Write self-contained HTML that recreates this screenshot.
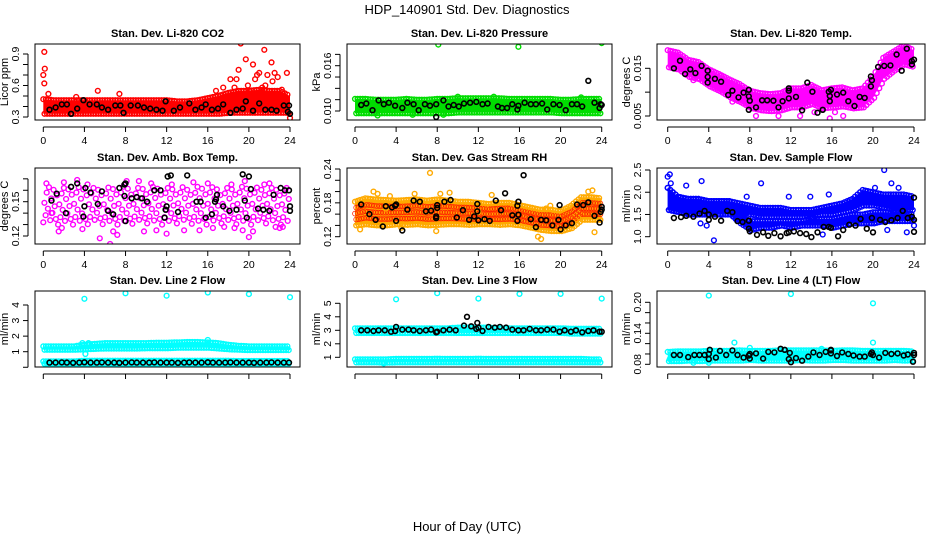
<!DOCTYPE html>
<html><head><meta charset="utf-8"><style>
body{margin:0;background:#fff}
svg{display:block;font-family:"Liberation Sans",sans-serif}
.t{font-weight:bold;font-size:11px}
.tk{font-size:10.5px}
</style></head><body>
<svg id="c" width="936" height="540" viewBox="0 0 936 540">
<text x="467" y="14" text-anchor="middle" font-size="13">HDP_140901  Std. Dev. Diagnostics</text>
<text x="467" y="531" text-anchor="middle" font-size="13">Hour of Day (UTC)</text>
</svg>
<script>
// ---------- Panel 1: CO2 ----------
const hoursBand=[0,1,2,3,4,5,6,7,8,9,10,11,12,13,14,15,16,17,18,19,20,21,22,23,24];
const co2Lo=[0.33,0.33,0.33,0.33,0.33,0.33,0.33,0.33,0.33,0.33,0.33,0.33,0.33,0.33,0.33,0.33,0.33,0.33,0.34,0.34,0.34,0.34,0.34,0.34,0.34];
const co2Hi=[0.47,0.46,0.46,0.46,0.46,0.46,0.46,0.46,0.46,0.46,0.46,0.46,0.46,0.45,0.45,0.46,0.48,0.5,0.53,0.55,0.55,0.56,0.55,0.55,0.5];
const co2OutH=[0.1,0.15,0,0.1,0.5,3.2,5.3,7.4,16.8,17.5,18.2,18.6,18.8,19,19.2,19.7,19.9,20.4,20.6,20.8,21,21.3,21.5,21.8,22.2,22.3,22.5,22.8,23.2,23.7,24,20.1,21.6,23];
const co2OutV=[0.92,0.76,0.7,0.62,0.52,0.49,0.55,0.52,0.55,0.58,0.66,0.58,0.66,0.75,1.0,0.85,0.6,0.8,0.66,0.7,0.72,0.58,0.94,0.7,0.82,0.64,0.72,0.68,0.56,0.72,0.29,0.55,0.6,0.5];
const co2BlkH=[0.6,1.2,1.8,2.3,2.7,3.3,3.9,4.5,5.2,5.7,6.3,7,7.5,7.8,8.5,9.2,9.8,10.4,11,11.6,11.9,12.7,13.3,14.2,14.8,15.4,15.8,16.4,17,17.5,18.2,18.8,19.4,19.7,20.4,21,21.6,22.2,22.7,23.4,23.8,23.9,24];
const co2BlkV=[0.37,0.39,0.42,0.42,0.33,0.38,0.46,0.42,0.42,0.39,0.37,0.41,0.41,0.34,0.41,0.41,0.39,0.38,0.37,0.36,0.45,0.36,0.39,0.43,0.37,0.39,0.42,0.37,0.38,0.42,0.34,0.37,0.38,0.45,0.36,0.43,0.37,0.37,0.36,0.41,0.35,0.41,0.33];
// ---------- Panel 2: Pressure ----------
const prsLo=[0.0097,0.0097,0.0097,0.0097,0.0097,0.0097,0.0097,0.0097,0.0097,0.0097,0.0098,0.0098,0.0098,0.0098,0.0098,0.0098,0.0098,0.0098,0.0098,0.0098,0.0097,0.0097,0.0097,0.0097,0.0097];
const prsHi=[0.0116,0.0116,0.0115,0.0115,0.0115,0.0116,0.0115,0.0115,0.0116,0.0116,0.0117,0.0117,0.0117,0.0117,0.0117,0.0116,0.0116,0.0116,0.0116,0.0116,0.0115,0.0115,0.0116,0.0116,0.0116];
const prsOutH=[8.1,15.9,24,13.5,10,5.6,22,8.6,2.2];
const prsOutV=[0.0188,0.0185,0.0190,0.0119,0.0119,0.0095,0.0118,0.0095,0.0094];
const prsBlkH=[0.6,1.1,1.7,2.3,2.8,3.3,3.9,4.6,5.1,5.7,6.2,6.8,7.3,7.9,7.9,8.6,9.1,9.6,10.1,10.6,11.2,11.8,12.4,12.9,13.9,14.3,14.8,15.3,15.8,15.9,16.5,17.1,17.6,18.2,18.7,19.3,19.9,20.5,21.1,21.6,22.1,22.7,23.3,23.9,23.8,24];
const prsBlkV=[0.0108,0.0110,0.0101,0.0114,0.0109,0.0111,0.0107,0.0104,0.0111,0.0109,0.0101,0.0109,0.0107,0.0109,0.0092,0.0114,0.0106,0.0108,0.0106,0.0110,0.0111,0.0112,0.0109,0.0110,0.0106,0.0104,0.0104,0.0109,0.0102,0.0107,0.0111,0.0109,0.0109,0.0110,0.0102,0.0109,0.0108,0.0101,0.0109,0.0109,0.0106,0.0140,0.0111,0.0109,0.0104,0.0108];
// ---------- Panel 3: Li-820 Temp ----------
const tmpLo=[0.0152,0.0147,0.0132,0.0127,0.0112,0.0102,0.0089,0.0079,0.0067,0.0062,0.0060,0.0062,0.0068,0.0068,0.0075,0.0066,0.0068,0.0070,0.0066,0.0068,0.0088,0.0128,0.0145,0.0158,0.0152];
const tmpHi=[0.0188,0.0183,0.0168,0.0163,0.0148,0.0138,0.0127,0.0117,0.0103,0.0098,0.0096,0.0098,0.0108,0.0108,0.0115,0.0104,0.0108,0.0110,0.0104,0.0108,0.0132,0.0172,0.0185,0.0198,0.0188];
const tmpOutH=[5.2,6.3,7.8,8.6,10.8,12.9,15.8,17.1,16.3,14.3,2.5,6.8];
const tmpOutV=[0.0135,0.0080,0.0075,0.0050,0.0050,0.0050,0.0045,0.0050,0.0058,0.0058,0.0125,0.0085];
const tmpBlkH=[0.6,1.2,1.7,2.2,2.7,3.3,3.9,3.9,3.9,4.6,5.2,5.9,6.3,6.9,7.4,7.9,7.9,8,7.9,8.6,9.2,9.7,10.3,10.8,11.2,11.8,11.8,11.8,12.5,13.1,13.6,14.1,14.6,15.1,15.7,15.8,15.8,15.9,16.5,17.1,17.6,18.2,18.7,19.2,19.8,19.9,19.8,20.5,21.1,21.7,22.3,22.8,23.3,23.8,23.8,24];
const tmpBlkV=[0.0150,0.0166,0.0138,0.0148,0.0140,0.0155,0.0145,0.0132,0.0120,0.0128,0.0122,0.0094,0.0103,0.0089,0.0099,0.0105,0.0091,0.0082,0.0063,0.0068,0.0083,0.0083,0.0082,0.0068,0.0081,0.0087,0.0108,0.0103,0.0090,0.0062,0.0120,0.0101,0.0057,0.0063,0.0101,0.0081,0.0092,0.0105,0.0095,0.0099,0.0081,0.0071,0.0090,0.0088,0.0112,0.0125,0.0133,0.0153,0.0155,0.0156,0.0179,0.0145,0.0191,0.0158,0.0165,0.0168];
// ---------- Panel 4: Amb. Box Temp ----------
const ambLo=[0.132,0.13,0.13,0.13,0.13,0.131,0.13,0.13,0.13,0.131,0.131,0.13,0.13,0.131,0.131,0.13,0.13,0.131,0.131,0.13,0.13,0.131,0.131,0.13,0.13];
const ambHi=[0.163,0.162,0.162,0.163,0.162,0.162,0.162,0.163,0.163,0.162,0.163,0.163,0.162,0.163,0.162,0.163,0.163,0.162,0.162,0.163,0.163,0.162,0.162,0.162,0.162];
const ambOutH=[0.3,2,3.3,1.8,5.5,6.5,7.2,6.8,8.1,9.3,11,12,13.7,15.2,16.5,17.6,18.6,19.4,20,20.4,21.5,22.6,23.3,22,10.5,14.6,18.3,4.3,0.8,1.5,3.8,9.8,12.5,16,19.6,23];
const ambOutV=[0.166,0.167,0.169,0.127,0.118,0.113,0.121,0.124,0.168,0.168,0.125,0.122,0.125,0.125,0.127,0.128,0.127,0.125,0.119,0.124,0.165,0.128,0.128,0.166,0.166,0.167,0.165,0.165,0.140,0.124,0.126,0.124,0.165,0.166,0.168,0.127];
const ambBlkH=[0.8,1.3,2.2,2.7,3.3,3.9,4.0,4.1,4.6,5.3,5.7,6.3,6.8,7.4,7.9,8,7.9,8,8.6,9.1,9.6,10.1,10.8,11.4,11.8,11.9,12,12.4,12.1,13.1,14,14.9,15.3,15.8,16.4,16.7,16.8,16.9,17.5,18.1,18.8,19.4,19.6,19.8,20,20.2,20.9,21.4,22,22.4,23.1,23.5,23.9,24,24];
const ambBlkV=[0.151,0.157,0.140,0.163,0.166,0.137,0.146,0.162,0.158,0.148,0.159,0.142,0.139,0.162,0.165,0.166,0.155,0.133,0.153,0.154,0.153,0.150,0.160,0.160,0.136,0.143,0.146,0.173,0.172,0.141,0.173,0.150,0.150,0.136,0.139,0.150,0.152,0.156,0.146,0.142,0.143,0.174,0.151,0.136,0.172,0.161,0.144,0.143,0.142,0.156,0.162,0.160,0.160,0.146,0.142];
// ---------- Panel 5: Gas Stream RH ----------
const rhLo=[0.140,0.142,0.140,0.140,0.142,0.141,0.142,0.140,0.141,0.142,0.142,0.141,0.142,0.142,0.141,0.142,0.140,0.136,0.132,0.130,0.130,0.135,0.150,0.150,0.150];
const rhHi=[0.182,0.188,0.186,0.185,0.184,0.185,0.186,0.184,0.186,0.184,0.182,0.182,0.180,0.178,0.180,0.180,0.176,0.172,0.168,0.168,0.165,0.175,0.190,0.190,0.188];
const rhOutH=[0.5,1.8,2.2,3.4,7.3,8.3,9.2,7.9,13.3,17.8,18.1,18.6,22.7,23.1,23.3,4.5,5.8,12,19,3];
const rhOutV=[0.133,0.200,0.196,0.192,0.233,0.196,0.198,0.130,0.194,0.120,0.116,0.170,0.200,0.202,0.128,0.136,0.196,0.164,0.175,0.170];
const rhBlkH=[0.6,1.4,2.0,2.7,3.0,3.6,3.9,4.0,4.0,4.6,5.1,5.7,6.3,6.9,7.4,7.9,7.9,8.0,8.0,8.7,9.3,9.9,10.5,11.1,11.6,11.9,11.9,12.0,12.6,13.1,13.7,14.2,14.6,15.3,15.8,15.8,15.9,15.9,16.4,17.1,17.6,18.1,18.6,19.2,19.8,19.9,20,20.5,21.1,21.6,22.2,22.7,23.3,23.8,23.9,24,24];
const rhBlkV=[0.177,0.160,0.150,0.138,0.174,0.172,0.175,0.177,0.148,0.131,0.168,0.184,0.182,0.165,0.166,0.153,0.156,0.176,0.171,0.182,0.185,0.154,0.167,0.150,0.156,0.178,0.165,0.149,0.151,0.148,0.184,0.167,0.197,0.158,0.148,0.175,0.182,0.159,0.229,0.151,0.137,0.150,0.149,0.140,0.150,0.176,0.133,0.140,0.144,0.177,0.176,0.181,0.157,0.145,0.164,0.173,0.168];
// ---------- Panel 6: Sample Flow ----------
const sfALo=[1.6,1.55,1.5,1.5,1.5,1.5,1.5,1.35,1.5,1.45,1.45,1.45,1.45,1.45,1.45,1.5,1.5,1.55,1.6,1.7,1.7,1.65,1.6,1.6,1.6];
const sfAHi=[2.1,1.9,1.85,1.85,1.8,1.8,1.8,1.75,1.7,1.65,1.65,1.65,1.6,1.6,1.6,1.65,1.7,1.75,1.85,2.05,2.0,1.95,1.95,1.95,1.9];
const sfBLo=[1.6,1.55,1.5,1.5,1.5,1.5,1.5,1.3,1.15,1.2,1.2,1.25,1.2,1.25,1.25,1.25,1.2,1.25,1.3,1.3,1.3,1.35,1.35,1.35,1.35];
const sfBHi=[2.1,1.9,1.85,1.85,1.8,1.8,1.8,1.45,1.35,1.35,1.35,1.35,1.35,1.35,1.4,1.4,1.4,1.45,1.5,1.5,1.55,1.55,1.55,1.55,1.5];
const sfOutH=[0,0.2,0.3,1.8,3.3,3.8,3.2,4.5,7.7,9.1,11.8,13.9,15.7,15.1,20.2,21.1,21.4,21.8,23.3,24,22.5];
const sfOutV=[2.35,2.4,2.2,2.15,2.25,1.25,1.3,0.92,1.9,2.2,1.9,1.9,1.95,1.05,2.1,2.5,1.15,2.2,1.1,1.25,2.1];
const sfBlkH=[0.6,1.3,1.8,2.5,3.1,3.6,4,4,4.6,5.2,5.8,6.3,6.8,7.3,7.9,7.9,8,8.7,9.3,9.8,10.4,11,11.6,11.8,12.3,12.9,13.5,14.0,14.6,15.2,15.7,15.9,16.6,17.1,17.7,18.3,18.8,19.4,19.9,20,20.7,21.2,21.8,22.4,22.9,23.4,23.8,24,24,24];
const sfBlkV=[1.42,1.44,1.47,1.45,1.52,1.58,1.50,1.38,1.45,1.36,1.58,1.55,1.35,1.33,1.36,1.18,1.12,1.04,1.10,1.02,1.08,1.01,1.08,1.10,1.12,1.08,1.06,0.99,1.10,1.22,1.22,1.20,1.01,1.15,1.27,1.25,1.40,1.18,1.42,1.10,1.38,1.33,1.37,1.42,1.58,1.42,1.45,1.38,1.11,1.88];
// ---------- Panel 7: Line 2 Flow ----------
const l2Lo=[1.12,1.12,1.12,1.12,1.15,1.18,1.2,1.2,1.2,1.2,1.22,1.22,1.22,1.25,1.25,1.25,1.25,1.2,1.15,1.12,1.1,1.1,1.1,1.1,1.1];
const l2Hi=[1.35,1.35,1.35,1.35,1.45,1.5,1.55,1.55,1.55,1.55,1.55,1.58,1.58,1.6,1.62,1.62,1.6,1.55,1.45,1.38,1.35,1.35,1.35,1.35,1.35];
const l2LowLo=[0.22,0.22,0.22,0.22,0.22,0.22,0.22,0.22,0.22,0.22,0.22,0.22,0.22,0.22,0.22,0.22,0.22,0.22,0.22,0.22,0.22,0.22,0.22,0.22,0.22];
const l2LowHi=[0.38,0.38,0.38,0.38,0.42,0.42,0.42,0.42,0.42,0.42,0.42,0.42,0.42,0.42,0.42,0.42,0.42,0.42,0.42,0.40,0.40,0.40,0.40,0.40,0.40];
const l2OutH=[4,8,12,16,20,24,3.8,4.4,4.1,16];
const l2OutV=[4.4,4.75,4.6,4.8,4.7,4.5,1.55,1.55,0.85,1.75];
const l2BlkH=[0.6,1.2,1.8,2.3,2.9,3.5,4,4.6,5.2,5.7,6.3,6.9,7.4,8,8.6,9.1,9.7,10.3,10.8,11.4,12,12.5,13.1,13.7,14.2,14.8,15.4,16,16.5,17.1,17.7,18.2,18.8,19.4,20,20.5,21.1,21.7,22.2,22.8,23.4,23.9];
const l2BlkV=[0.3,0.3,0.31,0.3,0.29,0.3,0.32,0.3,0.3,0.31,0.3,0.3,0.29,0.3,0.31,0.3,0.3,0.3,0.31,0.3,0.3,0.3,0.29,0.3,0.31,0.3,0.3,0.32,0.3,0.3,0.3,0.31,0.3,0.3,0.3,0.29,0.3,0.3,0.31,0.3,0.3,0.3];
// ---------- Panel 8: Line 3 Flow ----------
const l3Lo=[2.8,2.8,2.8,2.8,2.8,2.8,2.8,2.8,2.8,2.8,2.8,2.8,2.8,2.8,2.8,2.8,2.8,2.8,2.8,2.8,2.8,2.75,2.75,2.75,2.75];
const l3Hi=[3.15,3.15,3.15,3.15,3.15,3.15,3.15,3.15,3.15,3.15,3.2,3.2,3.2,3.2,3.15,3.15,3.15,3.15,3.15,3.15,3.15,3.12,3.12,3.12,3.12];
const l3LowLo=[0.62,0.62,0.62,0.6,0.62,0.62,0.62,0.62,0.62,0.62,0.62,0.62,0.62,0.62,0.62,0.62,0.62,0.62,0.62,0.62,0.62,0.62,0.62,0.62,0.62];
const l3LowHi=[0.85,0.85,0.85,0.85,0.88,0.88,0.88,0.88,0.9,0.88,0.88,0.88,0.9,0.88,0.88,0.88,0.88,0.88,0.88,0.88,0.88,0.88,0.88,0.85,0.85];
const l3OutH=[4,8,12,16,20,24,2.8];
const l3OutV=[5.3,5.75,5.35,5.7,5.7,5.35,0.55];
const l3BlkH=[0.6,1.2,1.8,2.3,2.9,3.5,3.9,4,4.6,5.2,5.7,6.3,6.9,7.4,7.9,8,8.6,9.2,9.8,10.6,10.9,11.3,11.8,11.9,12,12.4,13,13.6,14.1,14.7,15.3,15.9,16.4,17,17.6,18.1,18.7,19.3,19.9,20.4,21,21.5,22.1,22.7,23.2,23.8,24];
const l3BlkV=[3.0,3.0,2.95,3.0,3.0,2.9,2.95,3.25,3.05,3.05,3.0,2.95,3.0,3.05,2.85,2.9,3.0,3.05,3.0,3.35,4.0,3.3,3.1,3.55,3.2,2.95,3.25,3.2,3.25,3.2,3.05,3.0,3.0,3.1,3.0,3.0,3.05,3.05,2.9,3.0,2.9,3.0,2.85,2.95,3.0,2.9,2.9];
// ---------- Panel 9: Line 4 (LT) Flow ----------
const l4Lo=[0.086,0.086,0.087,0.086,0.087,0.087,0.087,0.087,0.088,0.087,0.087,0.087,0.087,0.088,0.087,0.087,0.088,0.088,0.087,0.087,0.087,0.087,0.088,0.087,0.088];
const l4Hi=[0.104,0.105,0.105,0.105,0.106,0.106,0.106,0.107,0.106,0.106,0.106,0.107,0.107,0.107,0.107,0.107,0.106,0.107,0.107,0.106,0.106,0.106,0.106,0.106,0.105];
const l4OutH=[4,12,20,20,6.5,0.2,2.5,4,8,15];
const l4OutV=[0.213,0.216,0.198,0.122,0.122,0.090,0.083,0.083,0.112,0.110];
const l4BlkH=[0.6,1.2,2,2.6,3.1,3.6,4,4.1,4,4.7,5.1,5.7,6.3,6.8,7.4,7.9,8,8,8.6,9.3,9.8,10.4,11,11.4,11.8,11.9,12,12.5,13.1,13.7,14.2,14.8,15.4,15.9,15.9,15.9,16.5,17,17.6,18.1,18.7,19.2,19.8,19.9,20,20.6,21.2,21.8,22.4,23,23.4,23.9,24,24];
const l4BlkV=[0.098,0.098,0.094,0.098,0.098,0.098,0.100,0.108,0.090,0.093,0.106,0.098,0.107,0.098,0.093,0.097,0.100,0.091,0.101,0.091,0.104,0.103,0.110,0.108,0.090,0.102,0.084,0.092,0.087,0.095,0.103,0.098,0.104,0.101,0.107,0.108,0.096,0.103,0.100,0.097,0.095,0.095,0.100,0.103,0.098,0.093,0.102,0.100,0.101,0.097,0.099,0.085,0.098,0.102];

const NS='http://www.w3.org/2000/svg';
const svg=document.getElementById('c');
const colX=[[35,300,43.3,290],[347,612,355,601.7],[657,925,667.7,914]];
const rowY=[[44,120],[168,244],[291,367]];
const xTicks=[0,4,8,12,16,20,24];
function mk(tag,attrs,parent){const e=document.createElementNS(NS,tag);for(const k in attrs)e.setAttribute(k,attrs[k]);(parent||svg).appendChild(e);return e;}

const panels=[
 {id:'co2',col:0,row:0,title:'Stan. Dev. Li-820 CO2',yl:'Licor ppm',v0:0.3,p0:117,v1:0.9,p1:54,ticks:[0.3,0.4,0.5,0.6,0.7,0.8,0.9],labels:['0.3','','','0.6','','','0.9'],color:'#ff0000',bands:[[co2Lo,co2Hi]],oh:co2OutH,ov:co2OutV,bh:co2BlkH,bv:co2BlkV,xl:true,fill:true},
 {id:'pressure',col:1,row:0,title:'Stan. Dev. Li-820 Pressure',yl:'kPa',v0:0.010,p0:111,v1:0.016,p1:65.7,ticks:[0.010,0.0115,0.013,0.0145,0.016,0.0175],labels:['0.010','','','','0.016',''],color:'#00dd00',bands:[[prsLo,prsHi]],oh:prsOutH,ov:prsOutV,bh:prsBlkH,bv:prsBlkV,xl:true,fill:true},
 {id:'temp',col:2,row:0,title:'Stan. Dev. Li-820 Temp.',yl:'degrees C',v0:0.005,p0:116,v1:0.015,p1:68.3,ticks:[0.005,0.010,0.015],labels:['0.005','','0.015'],color:'#ff00ff',bands:[[tmpLo,tmpHi]],oh:tmpOutH,ov:tmpOutV,bh:tmpBlkH,bv:tmpBlkV,xl:true,fill:true},
 {id:'ambbox',col:0,row:1,title:'Stan. Dev. Amb. Box Temp.',yl:'degrees C',v0:0.12,p0:236,v1:0.15,p1:201.7,ticks:[0.12,0.13,0.14,0.15,0.16,0.17],labels:['0.12','','','0.15','',''],color:'#ff00ff',bands:[[ambLo,ambHi]],oh:ambOutH,ov:ambOutV,bh:ambBlkH,bv:ambBlkV,xl:true,fill:false},
 {id:'rh',col:1,row:1,title:'Stan. Dev. Gas Stream RH',yl:'percent',v0:0.12,p0:236.7,v1:0.24,p1:169,ticks:[0.12,0.14,0.16,0.18,0.20,0.22,0.24],labels:['0.12','','','0.18','','','0.24'],color:'#ffaa00',speck:'#ff2200',bands:[[rhLo,rhHi]],oh:rhOutH,ov:rhOutV,bh:rhBlkH,bv:rhBlkV,xl:true,fill:true},
 {id:'sampleflow',col:2,row:1,title:'Stan. Dev. Sample Flow',yl:'ml/min',v0:1.0,p0:236.7,v1:2.5,p1:170,ticks:[1.0,1.5,2.0,2.5],labels:['1.0','1.5','2.0','2.5'],color:'#0000ff',bands:[[sfALo,sfAHi],[sfBLo,sfBHi]],oh:sfOutH,ov:sfOutV,bh:sfBlkH,bv:sfBlkV,xl:true,fill:true},
 {id:'line2',col:0,row:2,title:'Stan. Dev. Line 2 Flow',yl:'ml/min',v0:1,p0:351.7,v1:4,p1:305,ticks:[0,1,2,3,4],labels:['','1','2','3','4'],color:'#00ffff',bands:[[l2Lo,l2Hi],[l2LowLo,l2LowHi]],oh:l2OutH,ov:l2OutV,bh:l2BlkH,bv:l2BlkV,xl:false,fill:true},
 {id:'line3',col:1,row:2,title:'Stan. Dev. Line 3 Flow',yl:'ml/min',v0:1,p0:357.3,v1:5,p1:303.3,ticks:[1,2,3,4,5],labels:['1','2','3','4','5'],color:'#00ffff',bands:[[l3Lo,l3Hi],[l3LowLo,l3LowHi]],oh:l3OutH,ov:l3OutV,bh:l3BlkH,bv:l3BlkV,xl:false,fill:true},
 {id:'line4',col:2,row:2,title:'Stan. Dev. Line 4 (LT) Flow',yl:'ml/min',v0:0.08,p0:364.3,v1:0.20,p1:302.3,ticks:[0.08,0.10,0.12,0.14,0.16,0.18,0.20],labels:['0.08','','','0.14','','','0.20'],color:'#00ffff',bands:[[l4Lo,l4Hi]],oh:l4OutH,ov:l4OutV,bh:l4BlkH,bv:l4BlkV,xl:false,fill:true}
];

function circ(g,x,y,col,w){
  return mk('circle',{cx:x.toFixed(1),cy:y.toFixed(1),r:2.4,fill:'none',stroke:col,'stroke-width':w||1.4},g);
}
panels.forEach(p=>{
  const [bl,br,x0,x24]=colX[p.col];const [bt,bb]=rowY[p.row];
  const xs=h=>x0+h*(x24-x0)/24;
  const ys=v=>p.p0+(v-p.v0)*(p.p1-p.p0)/(p.v1-p.v0);
  const g=mk('g',{});
  
  
  const t=mk('text',{x:(bl+br)/2,y:bt-7,'text-anchor':'middle',class:'t'},g);t.textContent=p.title;
  
  
  const clip=mk('clipPath',{id:'cl'+p.id},g);mk('rect',{x:bl,y:bt,width:br-bl,height:bb-bt},clip);
  const pl=mk('g',{'clip-path':'url(#cl'+p.id+')'},g);
  
  
  p.bands.forEach((b,bi)=>{
    const [lo,hi]=b;
    if(p.fill){
      let pts=[];
      hoursBand.forEach((h,i)=>pts.push(xs(h).toFixed(1)+','+ys(hi[i]).toFixed(1)));
      for(let i=hoursBand.length-1;i>=0;i--)pts.push(xs(hoursBand[i]).toFixed(1)+','+ys(lo[i]).toFixed(1));
      const poly=mk('polygon',{points:pts.join(' '),fill:p.color},pl);
      
      
      for(let i=0;i<hoursBand.length-1;i++){
        for(let k=0;k<4;k++){
          const f=k/4,h=hoursBand[i]+f;
          const l=lo[i]+f*(lo[i+1]-lo[i]),u=hi[i]+f*(hi[i+1]-hi[i]);
          circ(pl,xs(h),ys(u),p.color);circ(pl,xs(h+0.12),ys(l),p.color);
          if(p.speck){circ(pl,xs(h),ys((l+u)/2),p.speck,0.8);circ(pl,xs(h+0.12),ys(l+(u-l)*0.25),p.speck,0.8);circ(pl,xs(h+0.12),ys(l+(u-l)*0.75),p.speck,0.8);}
        }
      }
    } else {
      const fr=[0,0.55,0.2,0.85,0.4,1,0.1,0.7,0.3,0.95,0.5,0.15,0.8];
      let n=0;
      for(let i=0;i<hoursBand.length-1;i++){
        for(let k=0;k<3;k++){
          const f=k/3,h=hoursBand[i]+f;
          const l=lo[i]+f*(lo[i+1]-lo[i]),u=hi[i]+f*(hi[i+1]-hi[i]);
          for(let j=0;j<3;j++){const q=fr[(n++)%fr.length];circ(pl,xs(h+j*0.11),ys(l+q*(u-l)),p.color);}
        }
      }
    }
  });
  p.oh.forEach((h,i)=>{const c=circ(pl,xs(h),ys(p.ov[i]),p.color);
    
    });
  p.bh.forEach((h,i)=>{const c=circ(pl,xs(h),ys(p.bv[i]),'#000',1.6);
    
    });
  mk('rect',{x:bl,y:bt,width:br-bl,height:bb-bt,fill:'none',stroke:'#000','stroke-width':1},g);
  const ax=mk('g',{stroke:'#000','stroke-width':1},g);
  
  
  const ya=bb+7;
  mk('line',{x1:xs(0),x2:xs(24),y1:ya,y2:ya},ax);
  xTicks.forEach(h=>{mk('line',{x1:xs(h),x2:xs(h),y1:ya,y2:ya+5},ax);
    if(p.xl){const tt=mk('text',{x:xs(h),y:ya+17,'text-anchor':'middle',class:'tk',stroke:'none'},g);tt.textContent=h;
      
      }});
  const yx=bl-7;
  const ay=mk('g',{stroke:'#000','stroke-width':1},g);
  
  
  mk('line',{x1:yx,x2:yx,y1:ys(p.ticks[0]),y2:ys(p.ticks[p.ticks.length-1])},ay);
  p.ticks.forEach((v,i)=>{const y=ys(v);mk('line',{x1:yx-5,x2:yx,y1:y,y2:y},ay);
    if(p.labels[i]){const tt=mk('text',{x:yx-9,y:y,'text-anchor':'middle',class:'tk',transform:'rotate(-90 '+(yx-9)+' '+y.toFixed(1)+')',stroke:'none'},g);tt.textContent=p.labels[i];
      
      }});
  const yt=mk('text',{x:bl-27,y:(bt+bb)/2,'text-anchor':'middle','font-size':'11',transform:'rotate(-90 '+(bl-27)+' '+(bt+bb)/2+')'},g);yt.textContent=p.yl;
  
  
});
</script>
</body></html>
